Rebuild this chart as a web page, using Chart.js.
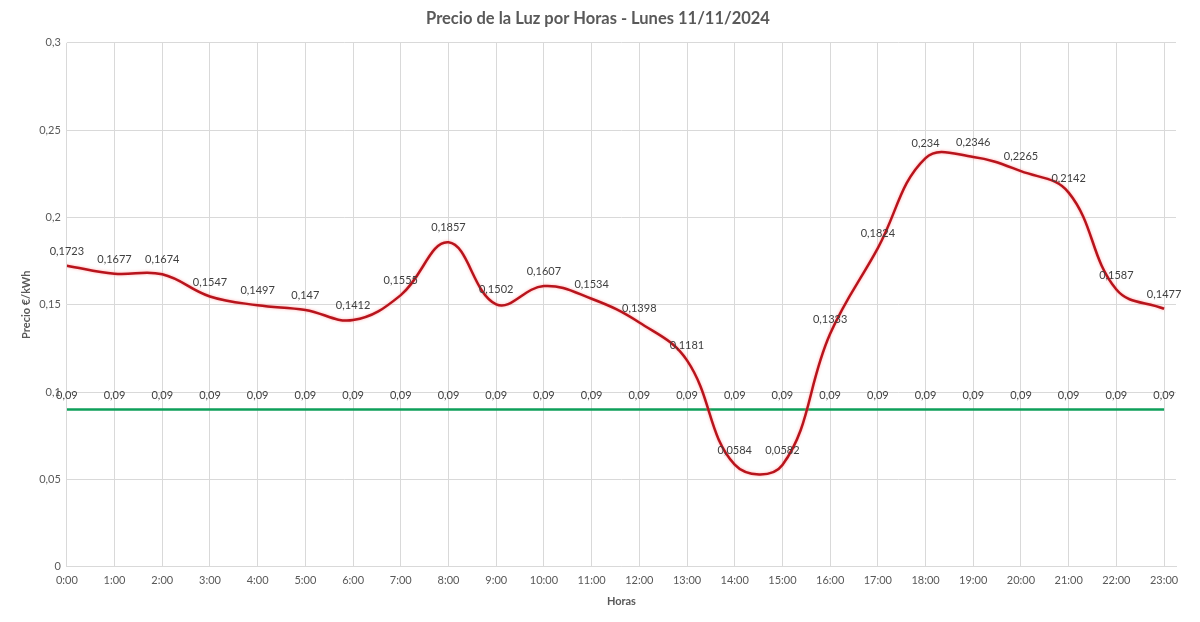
<!DOCTYPE html>
<html>
<head>
<meta charset="utf-8">
<script src="https://cdn.jsdelivr.net/npm/chart.js@4.4.1/dist/chart.umd.min.js"></script>
<style>
  html, body { margin: 0; padding: 0; background: #fff; }
  #wrap { width: 1200px; height: 622px; }
</style>
</head>
<body>
<div id="wrap"><canvas id="luzChart"></canvas></div>
<script>
// Horas del día
var horas = ['0:00', '1:00', '2:00', '3:00', '4:00', '5:00', '6:00', '7:00', '8:00', '9:00', '10:00', '11:00',
             '12:00', '13:00', '14:00', '15:00', '16:00', '17:00', '18:00', '19:00', '20:00', '21:00', '22:00', '23:00'];

// Precio €/kWh por hora
var precio = [0.1723, 0.1677, 0.1674, 0.1547, 0.1497, 0.147, 0.1412, 0.1555, 0.1857, 0.1502, 0.1607, 0.1534,
              0.1398, 0.1181, 0.0584, 0.0582, 0.1333, 0.1824, 0.234, 0.2346, 0.2265, 0.2142, 0.1587, 0.1477];

// Línea de referencia
var referencia = [0.09, 0.09, 0.09, 0.09, 0.09, 0.09, 0.09, 0.09, 0.09, 0.09, 0.09, 0.09,
                  0.09, 0.09, 0.09, 0.09, 0.09, 0.09, 0.09, 0.09, 0.09, 0.09, 0.09, 0.09];

var gris = '#595959';
var fuente = 'Lato, "Open Sans", sans-serif';

function coma(v) {
    return String(v).replace('.', ',');
}

function puntos(arr) {
    return arr.map(function (v, i) { return { x: i, y: v }; });
}

// Etiquetas de datos encima de cada punto
var etiquetas = {
    id: 'etiquetas',
    afterDatasetsDraw: function (chart) {
        var ctx = chart.ctx;
        ctx.save();
        ctx.font = '11px ' + fuente;
        ctx.fillStyle = '#404040';
        ctx.textAlign = 'center';
        ctx.textBaseline = 'bottom';
        chart.data.datasets.forEach(function (ds, di) {
            chart.getDatasetMeta(di).data.forEach(function (pt, i) {
                ctx.fillText(coma(ds.data[i].y), pt.x, pt.y - 9);
            });
        });
        ctx.restore();
    }
};

// Brillo suave de la línea roja
var brillo = {
    id: 'brillo',
    beforeDatasetDraw: function (chart, args) {
        if (args.index === 0) {
            chart.ctx.save();
            chart.ctx.shadowColor = 'rgba(255, 130, 130, 0.7)';
            chart.ctx.shadowBlur = 3;
        }
    },
    afterDatasetDraw: function (chart, args) {
        if (args.index === 0) chart.ctx.restore();
    }
};

var ctx = document.getElementById('luzChart').getContext('2d');
var myChart = new Chart(ctx, {
    type: 'line',
    data: {
        datasets: [
            {
                label: 'Precio',
                data: puntos(precio),
                borderColor: '#B8141C',
                borderWidth: 2.5,
                tension: 0.4,
                pointRadius: 0,
                fill: false
            },
            {
                label: 'Referencia',
                data: puntos(referencia),
                borderColor: '#0E9F5A',
                borderWidth: 2.5,
                tension: 0,
                pointRadius: 0,
                fill: false
            }
        ]
    },
    options: {
        responsive: true,
        maintainAspectRatio: false,
        animation: false,
        layout: { padding: { left: 20, right: 24, top: 5, bottom: 10 } },
        plugins: {
            legend: { display: false },
            tooltip: { enabled: false },
            title: {
                display: true,
                text: 'Precio de la Luz por Horas - Lunes 11/11/2024',
                color: gris,
                font: { family: fuente, size: 16.5, weight: 'bold' },
                padding: { top: 4, bottom: 14 }
            }
        },
        scales: {
            x: {
                type: 'linear',
                min: 0,
                max: 23.25,
                grid: { color: '#d9d9d9', drawTicks: false },
                border: { color: '#d9d9d9' },
                ticks: {
                    stepSize: 1,
                    includeBounds: false,
                    autoSkip: false,
                    maxRotation: 0,
                    padding: 7,
                    color: gris,
                    font: { family: fuente, size: 11 },
                    callback: function (v) { return horas[v]; }
                },
                title: {
                    display: true,
                    text: 'Horas',
                    color: gris,
                    font: { family: fuente, size: 11, weight: 'bold' },
                    padding: { top: 1 }
                }
            },
            y: {
                min: 0,
                max: 0.3,
                grid: { color: '#d9d9d9', drawTicks: false },
                border: { display: false },
                ticks: {
                    stepSize: 0.05,
                    padding: 6,
                    color: gris,
                    font: { family: fuente, size: 11 },
                    callback: function (v) { return coma(+v.toFixed(2)); }
                },
                title: {
                    display: true,
                    text: 'Precio €/kWh',
                    color: gris,
                    font: { family: fuente, size: 11, weight: 'bold' },
                    padding: { top: 0, bottom: 0 }
                }
            }
        }
    },
    plugins: [etiquetas, brillo]
});
</script>
</body>
</html>
